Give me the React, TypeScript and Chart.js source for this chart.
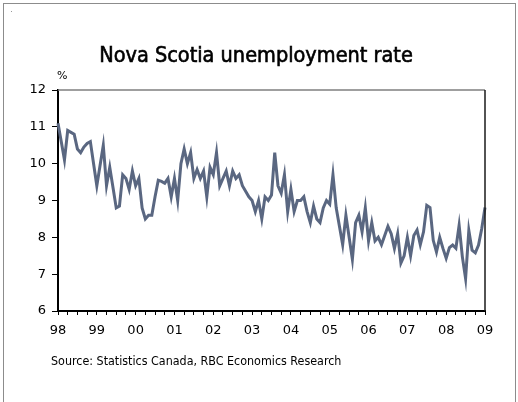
import React, { useEffect, useRef } from 'react';
import { Chart, registerables } from 'chart.js';

Chart.register(...registerables);

// Tick labels (years) for the x axis
const yearLabels = ['98', '99', '00', '01', '02', '03', '04', '05', '06', '07', '08', '09'];
const yTicks = [6, 7, 8, 9, 10, 11, 12];

// Monthly Nova Scotia unemployment rate, %, Jan 1998 - Jan 2009
const rate1998 = [11.1, 10.6, 10.1, 10.9, 10.85, 10.8, 10.4, 10.3, 10.45, 10.55, 10.6, 10.0];
const rate1999 = [9.4, 9.95, 10.5, 9.4, 9.9, 9.35, 8.8, 8.85, 9.7, 9.6, 9.3, 9.8];
const rate2000 = [9.4, 9.6, 8.8, 8.5, 8.6, 8.6, 9.1, 9.55, 9.52, 9.47, 9.6, 9.1];
const rate2001 = [9.6, 9.0, 10.0, 10.4, 10.0, 10.3, 9.6, 9.84, 9.6, 9.8, 9.1, 9.9];
const rate2002 = [9.7, 10.3, 9.4, 9.6, 9.8, 9.4, 9.8, 9.6, 9.7, 9.4, 9.25, 9.1];
const rate2003 = [9.0, 8.7, 9.0, 8.5, 9.1, 9.0, 9.15, 10.3, 9.4, 9.2, 9.7, 8.7];
const rate2004 = [9.3, 8.7, 9.0, 9.0, 9.1, 8.7, 8.4, 8.85, 8.5, 8.4, 8.8, 9.0];
const rate2005 = [8.9, 9.7, 8.8, 8.3, 7.8, 8.6, 8.0, 7.4, 8.4, 8.6, 8.15, 8.8];
const rate2006 = [7.9, 8.4, 7.9, 8.0, 7.8, 8.05, 8.3, 8.1, 7.7, 8.1, 7.3, 7.5];
const rate2007 = [8.0, 7.5, 8.05, 8.2, 7.8, 8.15, 8.87, 8.81, 7.92, 7.6, 8.0, 7.7];
const rate2008 = [7.43, 7.72, 7.79, 7.7, 8.33, 7.47, 6.88, 8.19, 7.65, 7.58, 7.79, 8.24];
const rate2009 = [8.81];

const allRates = [
  ...rate1998, ...rate1999, ...rate2000, ...rate2001, ...rate2002, ...rate2003,
  ...rate2004, ...rate2005, ...rate2006, ...rate2007, ...rate2008, ...rate2009,
];

const FONT = "'DejaVu Sans', Verdana, sans-serif";

const framePlugin = {
  id: 'plotFrame',
  afterDraw(chart: any) {
    const { ctx, chartArea: a } = chart;
    ctx.save();
    ctx.lineWidth = 1.5;
    ctx.strokeStyle = '#7f7f7f';
    ctx.beginPath();
    ctx.moveTo(a.left, a.top);
    ctx.lineTo(a.right, a.top);
    ctx.stroke();
    ctx.strokeStyle = '#1a1a1a';
    ctx.beginPath();
    ctx.moveTo(a.right, a.top);
    ctx.lineTo(a.right, a.bottom);
    ctx.stroke();
    ctx.restore();
  },
};

export default function App() {
  const ref = useRef<HTMLCanvasElement | null>(null);

  useEffect(() => {
    if (!ref.current) return;
    const points = allRates.map((v, i) => ({ x: i, y: v }));
    const chart = new Chart(ref.current, {
      type: 'line',
      data: {
        datasets: [
          {
            data: points,
            borderColor: '#5a6781',
            borderWidth: 3,
            pointRadius: 0,
            tension: 0,
            fill: false,
            clip: false as any,
          },
        ],
      },
      plugins: [framePlugin],
      options: {
        animation: false,
        responsive: false,
        maintainAspectRatio: false,
        layout: { padding: { left: 0, top: 90, right: 33, bottom: 61 } },
        plugins: { legend: { display: false }, tooltip: { enabled: false }, title: { display: false } },
        scales: {
          x: {
            type: 'linear',
            min: 0,
            max: allRates.length - 1,
            afterFit: (s: any) => {
              s.height = 30;
            },
            ticks: {
              stepSize: 3,
              autoSkip: false,
              maxRotation: 0,
              minRotation: 0,
              padding: 8,
              color: '#000',
              font: { family: FONT, size: 13 },
              callback: (v: any) => (Number(v) % 12 === 0 ? yearLabels[Number(v) / 12] : ''),
            },
            grid: { drawOnChartArea: false, drawTicks: true, tickLength: 4, color: '#000', lineWidth: 1 },
            border: { color: '#000', width: 2 },
          },
          y: {
            type: 'linear',
            min: yTicks[0],
            max: yTicks[yTicks.length - 1],
            afterFit: (s: any) => {
              s.width = 58;
            },
            ticks: {
              stepSize: 1,
              padding: 6,
              color: '#000',
              font: { family: FONT, size: 13 },
            },
            grid: { drawOnChartArea: false, drawTicks: true, tickLength: 6, color: '#000', lineWidth: 1 },
            border: { color: '#000', width: 2 },
          },
        },
      },
    });
    return () => chart.destroy();
  }, []);

  return (
    <div style={{ position: 'fixed', left: 0, top: 0, width: 518, height: 402, background: '#fff', overflow: 'hidden' }}>
      <div
        style={{
          position: 'absolute',
          left: 3,
          top: 3,
          width: 511,
          height: 410,
          borderLeft: '1px solid #8c8c8c',
          borderTop: '1px solid #8c8c8c',
          borderRight: '1px solid #8c8c8c',
        }}
      />
      <div style={{ position: 'absolute', left: 11, top: 11, width: 1, height: 1, background: '#999' }} />
      <canvas ref={ref} width={518} height={402} style={{ position: 'absolute', left: 0, top: 0, width: 518, height: 402 }} />
      <div
        style={{
          position: 'absolute',
          left: 0,
          width: 512,
          top: 42,
          textAlign: 'center',
          fontFamily: "'DejaVu Sans Condensed', 'DejaVu Sans', sans-serif",
          fontSize: 21.5,
          color: '#000',
          lineHeight: '26px',
          whiteSpace: 'nowrap',
          WebkitTextStroke: '0.6px #000',
        }}
      >
        Nova Scotia unemployment rate
      </div>
      <div style={{ position: 'absolute', left: 57, top: 70, fontFamily: FONT, fontSize: 11, color: '#000', lineHeight: '12px' }}>%</div>
      <div
        style={{
          position: 'absolute',
          left: 51,
          top: 353,
          fontFamily: "'DejaVu Sans Condensed', 'DejaVu Sans', sans-serif",
          fontSize: 12.4,
          color: '#000',
          lineHeight: '16px',
          whiteSpace: 'nowrap',
        }}
      >
        Source: Statistics Canada, RBC Economics Research
      </div>
    </div>
  );
}
